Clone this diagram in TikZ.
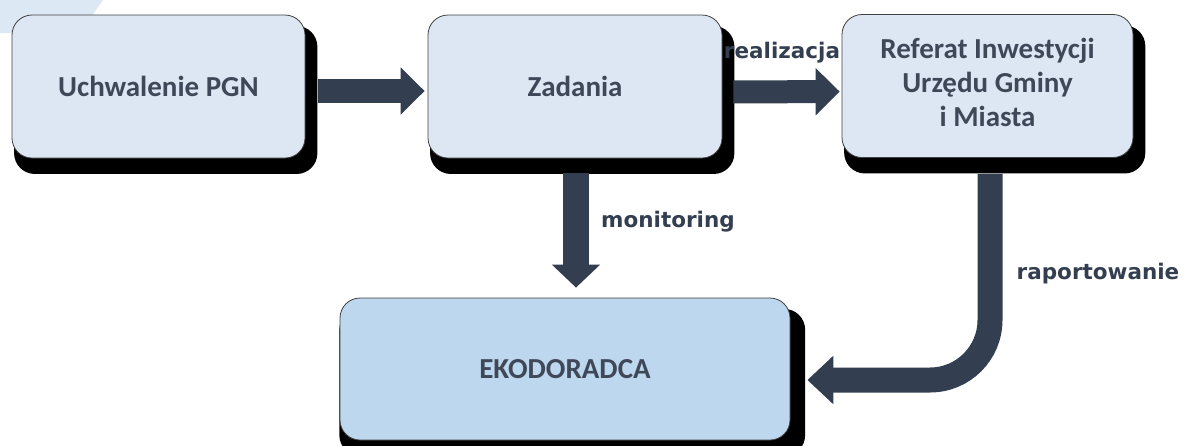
\documentclass[tikz,border=0pt]{standalone}
\usepackage{fontspec}
\setmainfont{Carlito}
\newfontfamily\lblfont{DejaVu Sans}
\usetikzlibrary{arrows.meta,shadows}
\definecolor{boxfill}{HTML}{DDE7F3}
\definecolor{ekofill}{HTML}{BDD7EE}
\definecolor{arrowc}{HTML}{333F50}
\definecolor{textc}{HTML}{3F4858}
\definecolor{bgblue}{HTML}{DDE8F5}
\begin{document}
\begin{tikzpicture}[x=1pt,y=-1pt,
  box/.style={rounded corners=20pt, fill=boxfill, draw=black!75, line width=0.8pt,
    minimum width=293pt, minimum height=143pt, inner sep=0pt, align=center,
    text=textc, font=\fontsize{29}{34}\selectfont\bfseries,
    general shadow={fill=black, shadow xshift=7pt, shadow yshift=-13pt, shadow scale=1.035}},
  flow/.style={draw=arrowc, line width=24pt, -{Triangle[length=24pt,width=46pt,fill=arrowc]}},
  lbl/.style={text=arrowc, font=\lblfont\fontsize{21.5}{24}\selectfont\bfseries, inner sep=0pt},
]
\useasboundingbox (0,0) rectangle (1186,445);
\fill[bgblue] (0,0) -- (103,0) -- (80,33) -- (0,33) -- cycle;

\node[box] (b1) at (158.5,86.5) {Uchwalenie PGN};
\node[box, minimum width=294pt] (b2) at (575,86.5) {Zadania};
\node[box, minimum width=291pt] (b3) at (987.5,86) {\raisebox{-6pt}{\begin{tabular}{@{}c@{}}Referat Inwestycji\\Urzędu Gminy\\i Miasta\end{tabular}}};
\node[box, fill=ekofill, minimum width=450pt, minimum height=142pt] (b4) at (565,369) {EKODORADCA};

\draw[flow] ([xshift=13pt,yshift=-4.5pt]b1.east) -- ([xshift=-3pt,yshift=-4.5pt]b2.west);
\draw[flow, line width=23pt] ([xshift=11pt,yshift=-5.5pt]b2.east) -- ([xshift=-2pt,yshift=-5.5pt]b3.west);

\coordinate (m1) at ([xshift=1pt,yshift=-15pt]b2.south);
\draw[flow, line width=26pt, -{Triangle[length=23pt,width=47pt,fill=arrowc]}, shorten >=10pt] (m1) -- (m1 |- b4.north);

\coordinate (r1) at ([xshift=2.5pt,yshift=-16pt]b3.south);
\draw[flow, line width=25pt, rounded corners=60pt, -{Triangle[length=26pt,width=47pt,fill=arrowc]}] (r1) |- ([xshift=17pt,yshift=-11pt]b4.east);

\node[lbl] (lr) at (782,53) {realizacja};
\node[lbl] (lm) at (668,222) {monitoring};
\node[lbl] (lp) at (1098,274) {raportowanie};
\end{tikzpicture}
\end{document}
